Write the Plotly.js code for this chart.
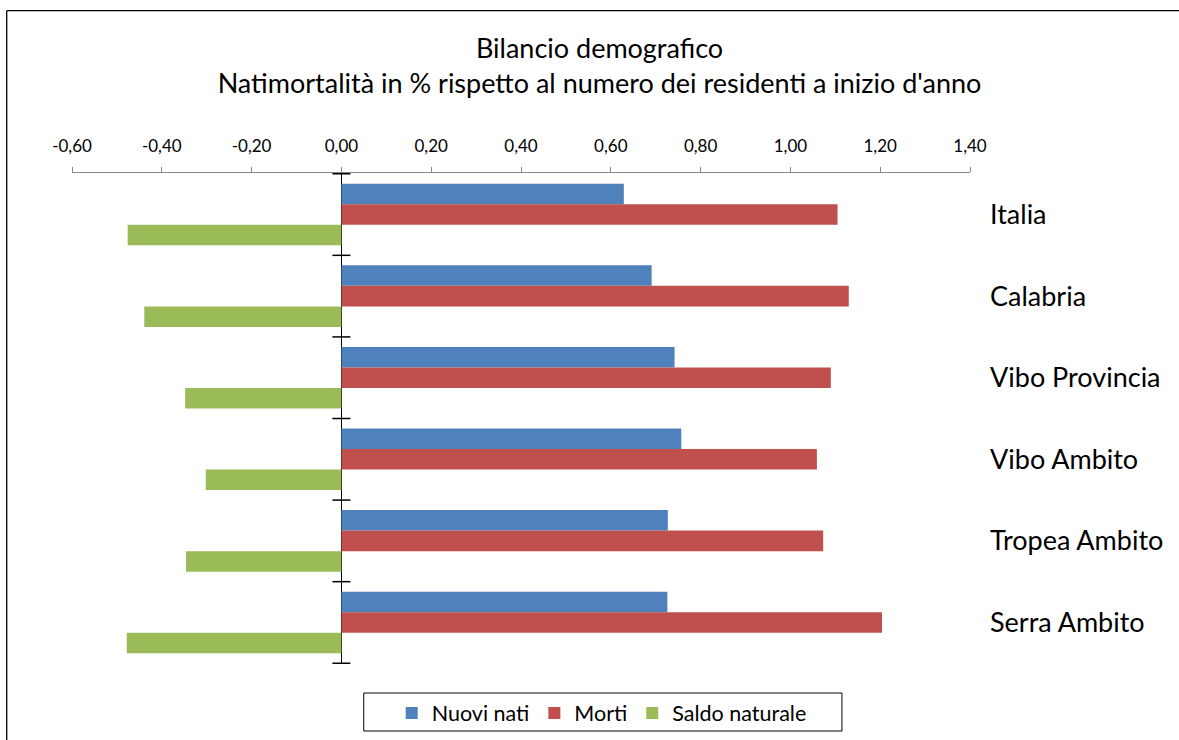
<!DOCTYPE html>
<html>
<head>
<meta charset="utf-8">
<script src="https://cdn.plot.ly/plotly-3.0.1.min.js"></script>
<style>html,body{margin:0;padding:0;background:#fff;}#chart{width:1179px;height:740px;}</style>
</head>
<body>
<div id="chart"></div>
<script>
const categories = ["Italia", "Calabria", "Vibo Provincia", "Vibo Ambito", "Tropea Ambito", "Serra Ambito"];
const nuoviNati = [0.629, 0.691, 0.742, 0.757, 0.727, 0.726];
const morti = [1.105, 1.130, 1.090, 1.059, 1.073, 1.204];
const saldoNaturale = [-0.476, -0.439, -0.348, -0.302, -0.346, -0.478];
const xTickVals = [-0.6, -0.4, -0.2, 0, 0.2, 0.4, 0.6, 0.8, 1.0, 1.2, 1.4];
const xTickText = xTickVals.map(v => v.toFixed(2).replace(".", ","));
const seriesNames = ["Nuovi nati", "Morti", "Saldo naturale"];
const seriesColors = ["#4F81BD", "#C0504D", "#9BBB59"];

const FONT = "Lato, 'Open Sans', sans-serif";
const seriesValues = [nuoviNati, morti, saldoNaturale];
const traces = seriesValues.map((vals, i) => ({
  type: "bar",
  orientation: "h",
  name: seriesNames[i],
  y: categories,
  x: vals,
  marker: {color: seriesColors[i], line: {width: 0}},
  hoverinfo: "x+y+name"
}));

// cross tick marks on the vertical axis at category boundaries
const shapes = [];
for (let i = 0; i <= categories.length; i++) {
  shapes.push({
    type: "line", xref: "x", yref: "y", xsizemode: "pixel", xanchor: 0,
    x0: -9, x1: 9, y0: i - 0.5, y1: i - 0.5,
    line: {color: "#000", width: 1.5}
  });
}
// chart area border (visible left and top edges)
shapes.push({
  type: "line", xref: "paper", yref: "paper",
  x0: -0.0727, x1: 1.3, y0: 1.3305, y1: 1.3305,
  line: {color: "#000", width: 1.3}
});
shapes.push({
  type: "line", xref: "paper", yref: "paper",
  x0: -0.0727, x1: -0.0727, y0: 1.3305, y1: -0.2,
  line: {color: "#000", width: 1.3}
});
// legend box
shapes.push({
  type: "rect", xref: "paper", yref: "paper",
  x0: 0.3249, x1: 0.8574, y0: -0.1365, y1: -0.0591,
  line: {color: "#000", width: 1}, fillcolor: "rgba(0,0,0,0)"
});

const layout = {
  width: 1179, height: 740,
  margin: {l: 72, r: 209, t: 173, b: 76, autoexpand: false},
  paper_bgcolor: "#fff", plot_bgcolor: "#fff",
  font: {family: FONT, color: "#000"},
  title: {
    text: "Bilancio demografico<br>Natimortalità in % rispetto al numero dei residenti a inizio d'anno",
    font: {family: FONT, size: 27, color: "#000"},
    x: 0.5085, xanchor: "center", xref: "container",
    y: 0.9216, yanchor: "middle", yref: "container"
  },
  barmode: "group",
  bargap: 0.245,
  bargroupgap: 0,
  xaxis: {
    side: "top",
    range: [xTickVals[0], xTickVals[xTickVals.length - 1]],
    tickmode: "array",
    tickvals: xTickVals,
    ticktext: xTickText,
    showgrid: false,
    zeroline: true, zerolinecolor: "#000", zerolinewidth: 1.5,
    showline: true, linecolor: "#868686", linewidth: 1,
    ticks: "outside", ticklen: 5, tickcolor: "#868686", tickwidth: 1,
    ticklabelstandoff: 8,
    tickfont: {family: FONT, size: 17, color: "#000"},
    fixedrange: true
  },
  yaxis: {
    type: "category",
    categoryorder: "array", categoryarray: categories,
    autorange: "reversed",
    side: "right",
    showgrid: false, zeroline: false, showline: false,
    ticks: "", ticklabelstandoff: 19,
    tickfont: {family: FONT, size: 27, color: "#000"},
    fixedrange: true
  },
  legend: {
    orientation: "h",
    x: 0.356, xanchor: "left",
    y: -0.058, yanchor: "top",
    borderwidth: 0,
    bgcolor: "rgba(0,0,0,0)",
    font: {family: FONT, size: 21.5, color: "#000"},
    traceorder: "normal"
  },
  shapes: shapes,
  showlegend: true
};

Plotly.newPlot("chart", traces, layout, {displayModeBar: false, staticPlot: true});
</script>
</body>
</html>
